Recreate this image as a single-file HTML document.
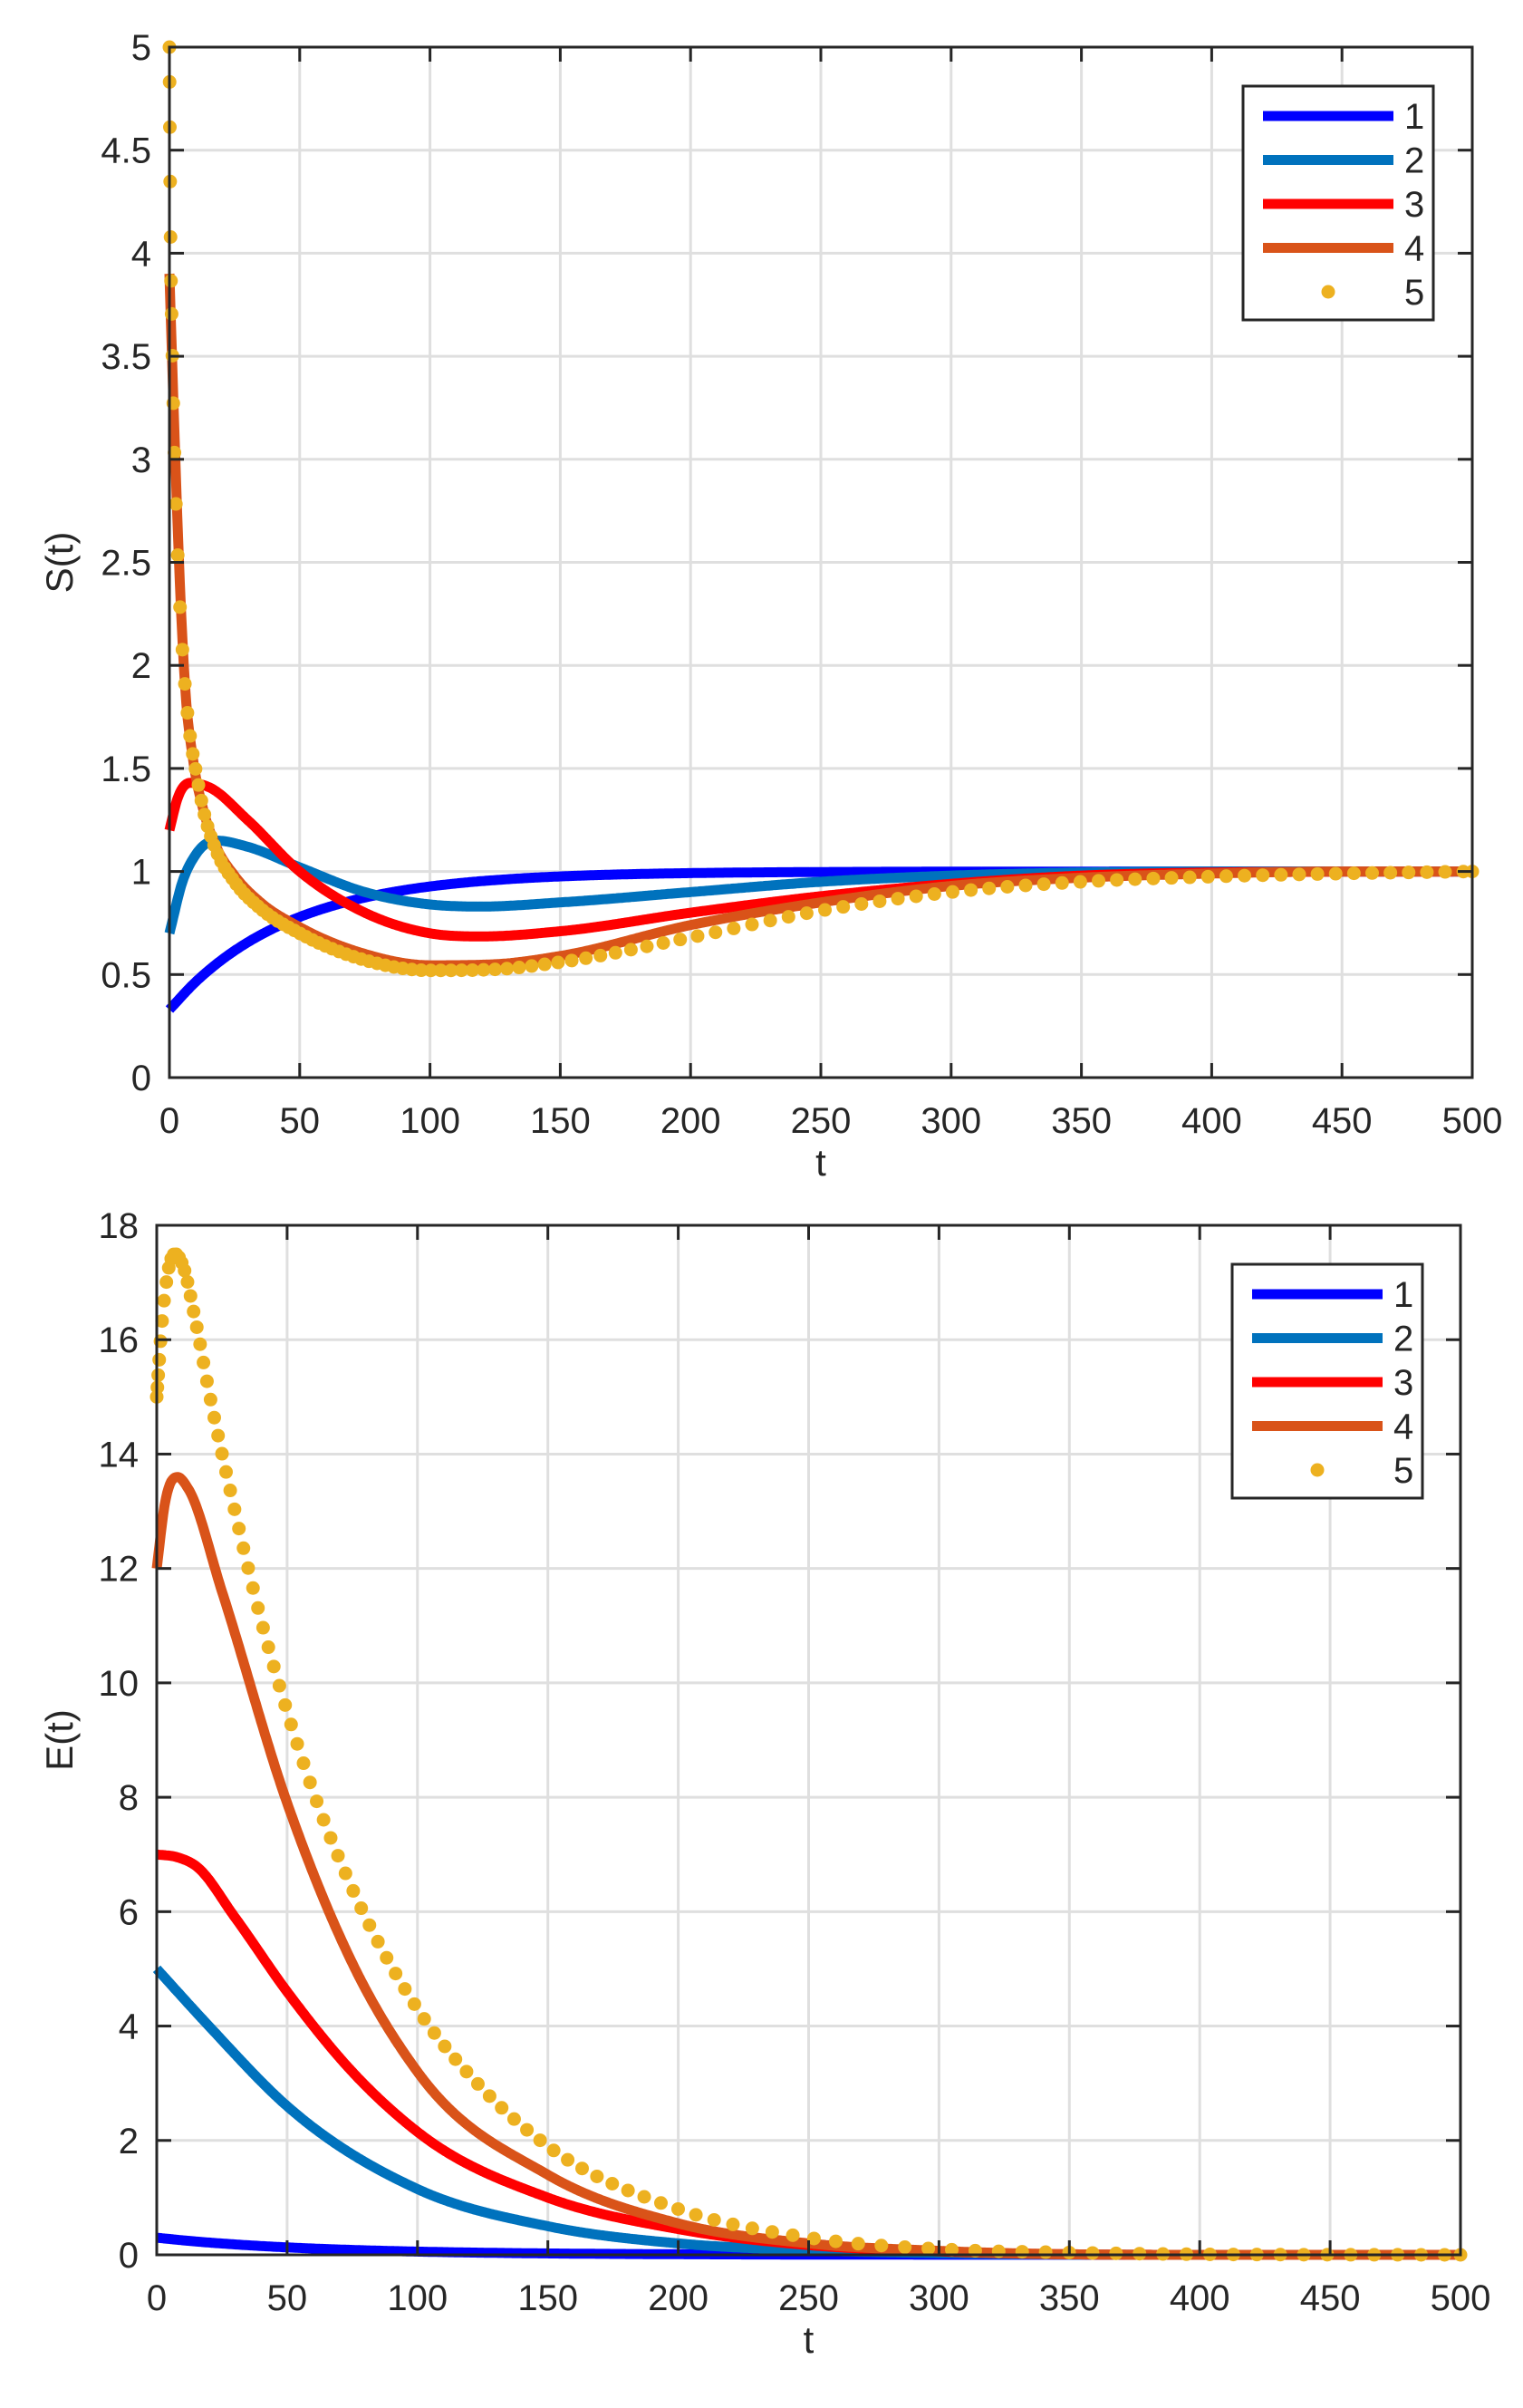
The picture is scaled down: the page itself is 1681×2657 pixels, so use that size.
<!DOCTYPE html>
<html><head><meta charset="utf-8"><style>
html,body{margin:0;padding:0;background:#fff;}
svg{display:block;}
text{font-family:"Liberation Sans",Arial,sans-serif;fill:#262626;}
</style></head><body>
<svg id="s" width="1681" height="2657" viewBox="0 0 1681 2657" xmlns="http://www.w3.org/2000/svg"></svg>
<script>
var NS="http://www.w3.org/2000/svg",S=document.getElementById("s");
function el(n,a,p){var e=document.createElementNS(NS,n);for(var k in a)e.setAttribute(k,a[k]);(p||S).appendChild(e);return e;}
function mono(pts){var n=pts.length,x=pts.map(p=>p[0]),y=pts.map(p=>p[1]),d=[],m=[];
for(var i=0;i<n-1;i++)d.push((y[i+1]-y[i])/(x[i+1]-x[i]));
m[0]=d[0];m[n-1]=d[n-2];for(i=1;i<n-1;i++){m[i]=(d[i-1]*d[i]<=0)?0:(d[i-1]*(x[i+1]-x[i])+d[i]*(x[i]-x[i-1]))/(x[i+1]-x[i-1]);}
for(i=0;i<n-1;i++){if(d[i]==0){m[i]=0;m[i+1]=0;continue;}var a=m[i]/d[i],b=m[i+1]/d[i],s=a*a+b*b;if(s>9){var t=3/Math.sqrt(s);m[i]=t*a*d[i];m[i+1]=t*b*d[i];}}
return function(t){var i=0;while(i<n-2&&t>x[i+1])i++;var h=x[i+1]-x[i],u=(t-x[i])/h,u2=u*u,u3=u2*u;
return (2*u3-3*u2+1)*y[i]+(u3-2*u2+u)*h*m[i]+(-2*u3+3*u2)*y[i+1]+(u3-u2)*h*m[i+1];};}
function axes(L,T,R,B,ymax,ystep,yfmt,ylabel){
 var X=t=>L+(R-L)*t/500,Y=v=>B-(B-T)*v/ymax;
 var g='#dfdfdf';
 for(var t=50;t<500;t+=50)el('line',{x1:X(t),y1:T,x2:X(t),y2:B,stroke:g,'stroke-width':3});
 for(var v=ystep;v<ymax-1e-9;v+=ystep)el('line',{x1:L,y1:Y(v),x2:R,y2:Y(v),stroke:g,'stroke-width':3});
 return {X:X,Y:Y,draw:function(){
 var c='#262626';
 for(var t=0;t<=500;t+=50){el('line',{x1:X(t),y1:B,x2:X(t),y2:B-16,stroke:c,'stroke-width':3});el('line',{x1:X(t),y1:T,x2:X(t),y2:T+16,stroke:c,'stroke-width':3});
  var tx=el('text',{x:X(t),y:B+61,'font-size':40,'text-anchor':'middle'});tx.textContent=t;}
 for(var v=0;v<=ymax+1e-9;v+=ystep){el('line',{x1:L,y1:Y(v),x2:L+16,y2:Y(v),stroke:c,'stroke-width':3});el('line',{x1:R,y1:Y(v),x2:R-16,y2:Y(v),stroke:c,'stroke-width':3});
  var tx=el('text',{x:L-20,y:Y(v)+14,'font-size':40,'text-anchor':'end'});tx.textContent=yfmt(v);}
 el('rect',{x:L,y:T,width:R-L,height:B-T,fill:'none',stroke:c,'stroke-width':3});
 var xl=el('text',{x:(L+R)/2,y:B+108,'font-size':42,'text-anchor':'middle'});xl.textContent='t';
 var yl=el('text',{x:80,y:(T+B)/2,'font-size':42,'text-anchor':'middle',transform:'rotate(-90 80 '+((T+B)/2)+')'});yl.textContent=ylabel;
 }};}
function line(ax,pts,col){var f=mono(pts),d='';for(var t=0;t<=500;t+=0.5){d+=(t?'L':'M')+ax.X(t).toFixed(1)+' '+ax.Y(f(t)).toFixed(1);}
 el('path',{d:d,fill:'none',stroke:col,'stroke-width':11,'stroke-linejoin':'round'});}
function dots(ax,pts,cap,s0){var f=mono(pts),t=0,s=s0;while(t<=500){el('circle',{cx:ax.X(t),cy:ax.Y(f(t)),r:7.5,fill:'#EDB120'});s=Math.min(s*1.25,Math.min(0.8+t*0.03,cap));t+=s;}
 el('circle',{cx:ax.X(500),cy:ax.Y(f(500)),r:7.5,fill:'#EDB120'});}
function legend(x,y,w,h){el('rect',{x:x,y:y,width:w,height:h,fill:'#fff',stroke:'#262626','stroke-width':3});
 var cols=['#0000FF','#0072BD','#FF0000','#D95319'];
 for(var i=0;i<5;i++){var yy=y+33+i*48.5;
  if(i<4)el('line',{x1:x+22,y1:yy,x2:x+166,y2:yy,stroke:cols[i],'stroke-width':11});
  else el('circle',{cx:x+94,cy:yy,r:7.5,fill:'#EDB120'});
  var tx=el('text',{x:x+178,y:yy+14,'font-size':40});tx.textContent=i+1;}}
// plot 1
var a1=axes(187,52,1625,1189,5,0.5,v=>String(Math.round(v*10)/10),'S(t)');
var c1=[];for(var t=0;t<=500;t+=10)c1.push([t,1-0.67*Math.exp(-t/45)]);
line(a1,c1,'#0000FF');
line(a1,[[0,0.7],[5,0.95],[10,1.08],[18,1.15],[30,1.12],[50,1.02],[75,0.9],[100,0.84],[120,0.83],[150,0.85],[200,0.9],[250,0.95],[300,0.98],[350,0.995],[400,1],[500,1]],'#0072BD');
line(a1,[[0,1.2],[3,1.35],[8,1.43],[15,1.41],[30,1.25],[50,1.0],[75,0.8],[100,0.7],[120,0.685],[150,0.71],[200,0.8],[250,0.88],[300,0.94],[350,0.98],[400,0.995],[500,1]],'#FF0000');
line(a1,[[0,3.9],[2,3.1],[4,2.4],[6,1.9],[9,1.55],[13,1.3],[18,1.12],[25,0.98],[35,0.85],[50,0.73],[75,0.6],[100,0.545],[125,0.55],[150,0.59],[200,0.74],[250,0.85],[300,0.93],[350,0.97],[400,0.99],[450,1],[500,1]],'#D95319');
dots(a1,[[0,5],[0.4,4.13],[1,3.6],[2,3.0],[3,2.6],[4,2.3],[6,1.9],[8,1.65],[10,1.5],[13,1.3],[18,1.1],[25,0.95],[35,0.82],[50,0.7],[75,0.57],[100,0.52],[125,0.525],[150,0.56],[200,0.68],[250,0.81],[300,0.9],[350,0.95],[400,0.975],[450,0.99],[500,1]],7,0.06);
a1.draw();legend(1372,95,210,258);
// plot 2
var a2=axes(173,1352,1612,2488,18,2,v=>String(v),'E(t)');
var c2=[];for(var t=0;t<=500;t+=10)c2.push([t,0.3*Math.exp(-t/60)]);
line(a2,c2,'#0000FF');
line(a2,[[0,5],[20,4.0],[50,2.6],[100,1.15],[150,0.5],[200,0.2],[250,0.08],[300,0.03],[400,0],[500,0]],'#0072BD');
line(a2,[[0,7],[8,6.95],[15,6.8],[30,5.9],[50,4.6],[75,3.2],[100,2.15],[150,1.0],[200,0.45],[250,0.17],[300,0.06],[400,0],[500,0]],'#FF0000');
line(a2,[[0,12],[3,13.1],[8,13.6],[12,13.4],[25,11.6],[50,7.9],[75,5.1],[100,3.2],[150,1.4],[200,0.55],[250,0.2],[300,0.07],[400,0],[500,0]],'#D95319');
dots(a2,[[0,15],[2,16.3],[4,17.1],[7,17.5],[10,17.3],[15,16.3],[20,15.1],[30,13.0],[40,11.1],[50,9.5],[60,8.1],[75,6.4],[100,4.3],[125,2.9],[150,1.9],[200,0.8],[250,0.3],[300,0.1],[350,0.04],[400,0.01],[500,0]],9,0.2);
a2.draw();legend(1360,1395,210,258);
</script>
</body></html>
